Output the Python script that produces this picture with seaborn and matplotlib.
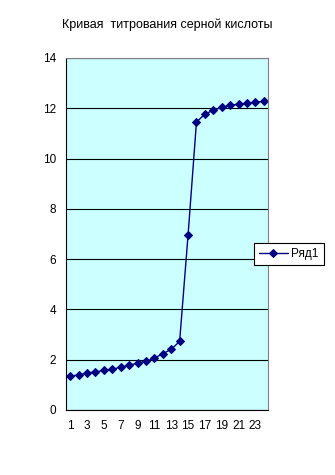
import matplotlib
matplotlib.use("Agg")
import matplotlib.pyplot as plt
import seaborn as sns
import pandas as pd

title = "Кривая  титрования серной кислоты"
series_name = "Ряд1"
categories = list(range(1, 25))
ph_values = [1.35, 1.39, 1.47, 1.51, 1.58, 1.62, 1.70, 1.78, 1.86, 1.94,
             2.06, 2.24, 2.41, 2.73, 6.95, 11.45, 11.77, 11.92, 12.04, 12.12,
             12.16, 12.20, 12.24, 12.28]
y_ticks = [0, 2, 4, 6, 8, 10, 12, 14]

sns.set_style("white")
plt.rcParams['font.family'] = ['Liberation Sans', 'DejaVu Sans']
plt.rcParams['text.color'] = 'black'
plt.rcParams['xtick.color'] = 'black'
plt.rcParams['ytick.color'] = 'black'
plt.rcParams['xtick.labelcolor'] = 'black'
plt.rcParams['ytick.labelcolor'] = 'black'

df = pd.DataFrame({"x": [c - 1 for c in categories], "y": ph_values, "s": series_name})

fig = plt.figure(figsize=(3.35, 4.75), dpi=100)
ax = fig.add_axes([66/335, 65/475, 202/335, 352/475])
ax.set_facecolor("#CCFFFF")

sns.lineplot(data=df, x="x", y="y", hue="s", palette=["#000080"], marker="D",
             markersize=4.5, markeredgecolor="#000080", linewidth=1, ax=ax,
             legend=True)

ax.set_xlim(-0.5, len(categories) - 0.5)
ax.set_ylim(0, 14)
ax.set_yticks(y_ticks)
ax.set_yticklabels([str(t) for t in y_ticks], fontsize=8.5)
ax.set_xticks([c - 1 for c in categories[::2]])
ax.set_xticklabels([str(c) for c in categories[::2]], fontsize=8.5)
ax.set_xticks([i - 0.5 for i in range(len(categories) + 1)], minor=True)
ax.tick_params(axis="x", which="major", length=0, pad=7)
ax.tick_params(axis="x", which="minor", length=4, width=0.8, color="black", direction="out")
ax.tick_params(axis="y", length=4, width=0.8, color="black", direction="out", pad=3)
ax.set_xlabel("")
ax.set_ylabel("")
ax.grid(axis="y", color="black", linewidth=0.8)
ax.set_axisbelow(True)

for s in ["top", "right"]:
    ax.spines[s].set_color("#808080")
    ax.spines[s].set_linewidth(0.8)
for s in ["left", "bottom"]:
    ax.spines[s].set_color("black")
    ax.spines[s].set_linewidth(0.8)

fig.text(167/335, 1 - 25/475, title, ha="center", va="center", fontsize=9, color="black")

handles, labels = ax.get_legend_handles_labels()
leg = ax.legend(handles, labels, loc="center left",
                bbox_to_anchor=(254/335, 1 - 254/475), bbox_transform=fig.transFigure,
                fontsize=8.5, frameon=True, fancybox=False, framealpha=1,
                edgecolor="black", handlelength=2.4, borderpad=0.45,
                handletextpad=0.3, borderaxespad=0)
leg.get_frame().set_linewidth(0.8)

fig.savefig("out.png", dpi=100)
